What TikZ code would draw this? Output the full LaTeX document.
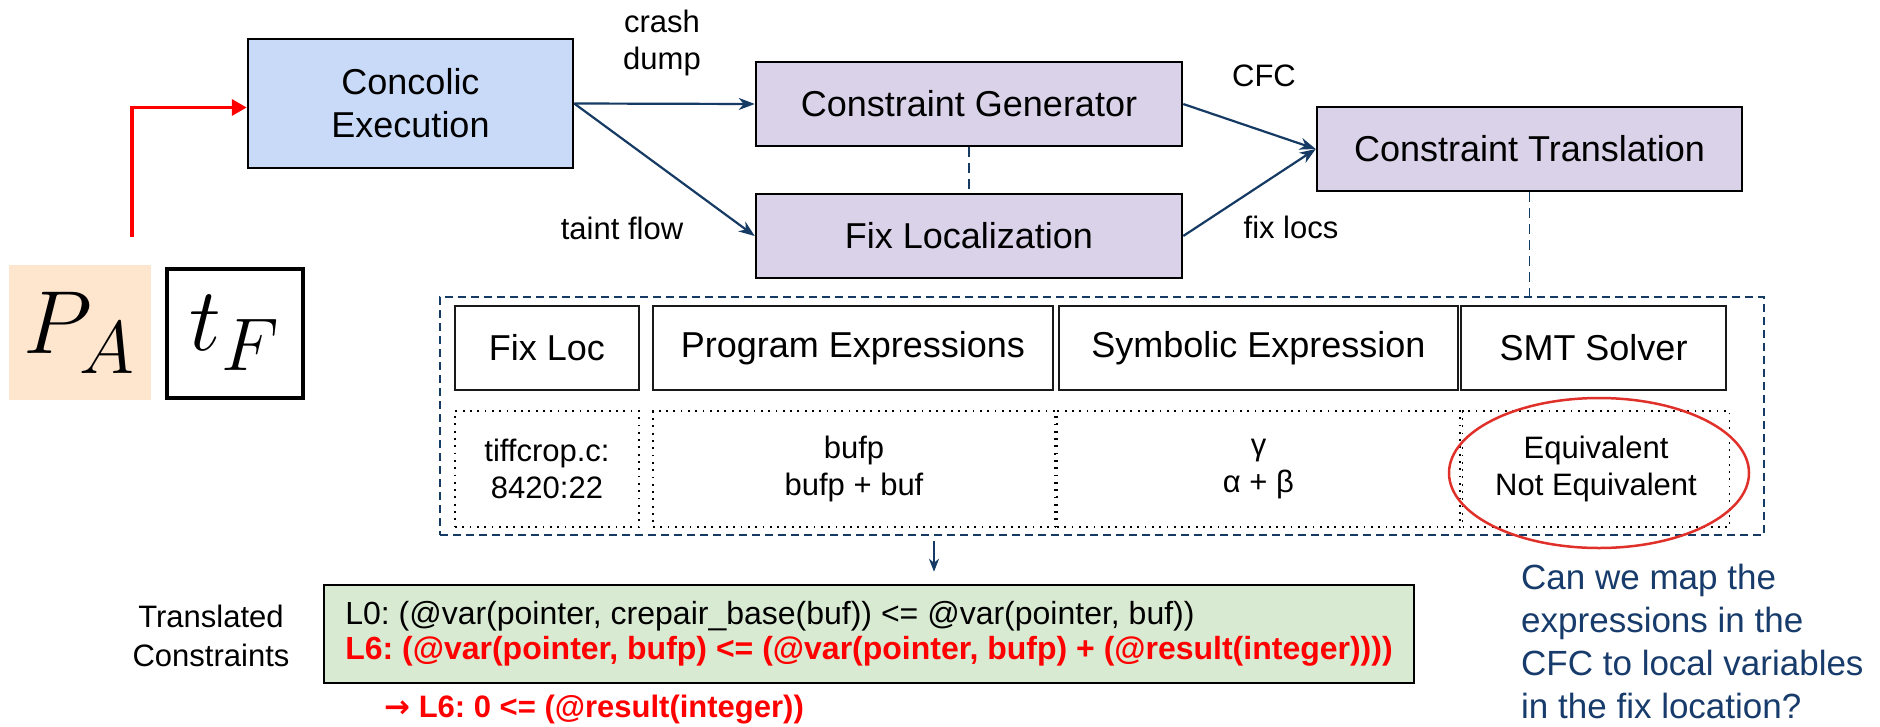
\documentclass[tikz,border=0pt]{standalone}
\usepackage{fontspec}
\setmainfont{Liberation Sans}
\newfontfamily\arrowfont{DejaVu Sans}
\usetikzlibrary{arrows.meta,shapes.geometric}

\definecolor{concfill}{HTML}{C9DAF8}
\definecolor{purpfill}{HTML}{D9D2E9}
\definecolor{greenfill}{HTML}{D9EAD3}
\definecolor{peach}{HTML}{FDE5CE}
\definecolor{navy}{HTML}{153A63}
\definecolor{qblue}{HTML}{173B6B}
\definecolor{ringred}{HTML}{E0302A}

\tikzset{
  procbox/.style={draw=black, line width=2.5pt, align=center, inner sep=0pt,
    font=\fontsize{36}{43}\selectfont},
  headbox/.style={draw=black!90, line width=2.5pt, align=center, inner sep=0pt,
    minimum height=84pt, font=\fontsize{36}{43}\selectfont},
  dotbox/.style={draw=black, line width=1.8pt, dash pattern=on 1.8pt off 5.5pt,
    align=center, inner sep=0pt, minimum height=116pt,
    font=\fontsize{31}{37}\selectfont},
  outerbox/.style={draw=navy, line width=2.2pt, dash pattern=on 8pt off 5pt, inner sep=0pt},
  dashconn/.style={draw=navy, line width=1.8pt, dash pattern=on 10pt off 6pt},
  bluearr/.style={draw=navy, line width=2.2pt,
    -{Stealth[length=16pt,width=12pt,inset=5pt]}},
  redarr/.style={draw=red, line width=3.5pt,
    -{Triangle[length=15pt,width=16pt]}},
  edgelabel/.style={align=center, inner sep=0pt, font=\fontsize{31}{37}\selectfont},
}

\begin{document}
\frenchspacing
\begin{tikzpicture}[x=1pt,y=-1pt]
\useasboundingbox (0,0) rectangle (1880,726);

% inputs: program and failing test
\node[fill=peach, minimum width=142pt, minimum height=135pt, inner sep=0pt] (pa) at (80,332.5)
  {\scalebox{3.6}{\fontsize{24.88}{30}\selectfont$P_A$}};
\node[draw=black, line width=4pt, minimum width=136pt, minimum height=129pt, inner sep=0pt] (tf) at (235,333)
  {\scalebox{3.6}{\fontsize{24.88}{30}\selectfont$t_F$}};

% pipeline stages
\node[procbox, fill=concfill, minimum width=325pt, minimum height=129pt] (conc) at (410.5,103.5) {Concolic\\Execution};
\node[procbox, fill=purpfill, minimum width=426pt, minimum height=84pt] (cg) at (969,104) {Constraint Generator};
\node[procbox, fill=purpfill, minimum width=426pt, minimum height=84pt] (fl) at (969,236) {Fix Localization};
\node[procbox, fill=purpfill, minimum width=425pt, minimum height=84pt] (ct) at (1529.5,149) {Constraint Translation};

% edge labels
\node[edgelabel] (lcrash) at (662,43) {crash\\dump};
\node[edgelabel] (ltaint) at (622,228) {taint flow};
\node[edgelabel] (lcfc) at (1264,76) {CFC};
\node[edgelabel] (lfix) at (1291,227) {fix locs};

% translation table
\node[outerbox, minimum width=1324pt, minimum height=238pt] (outer) at (1102,416) {};
\node[headbox, minimum width=184pt] (hfix) at (547,348) {Fix Loc};
\node[headbox, minimum width=400pt] (hprog) at (853,348) {Program Expressions};
\node[headbox, minimum width=399pt] (hsym) at (1258.5,348) {Symbolic Expression};
\node[headbox, minimum width=265pt] (hsmt) at (1593.5,348) {SMT Solver};
\node[dotbox, minimum width=184pt] (dfix) at (547,469) {tiffcrop.c:\\8420:22};
\node[dotbox, minimum width=402pt] (dprog) at (854,469) {bufp\\bufp + buf};
\node[dotbox, minimum width=403pt] (dsym) at (1258.5,469) {γ\\α + β};
\node[dotbox, minimum width=267pt] (dsmt) at (1596,469) {Equivalent\\Not Equivalent};
\node[draw=ringred, line width=2.5pt, ellipse, minimum width=300pt, minimum height=150pt,
  inner sep=0pt] (ring) at (1599,473) {};

% translated constraints
\node[align=center, inner sep=0pt, font=\fontsize{31}{39}\selectfont] (tlabel) at (211,636) {Translated\\Constraints};
\node[draw=black, line width=2.5pt, fill=greenfill, minimum height=98pt, minimum width=1090pt,
  inner sep=0pt, align=left, font=\fontsize{32}{35}\selectfont] (green) at (869,634)
  {L0: (@var(pointer, crepair\_base(buf)) <= @var(pointer, buf))\\
   \textcolor{red}{\bfseries L6: (@var(pointer, bufp) <= (@var(pointer, bufp) + (@result(integer))))}};
\node[anchor=west, inner sep=0pt, text=red, font=\bfseries\fontsize{31}{37}\selectfont] (res) at (384,710)
  {{\arrowfont\bfseries →} L6: 0 <= (@result(integer))};

% question
\node[anchor=west, align=left, inner sep=0pt, text=qblue, font=\fontsize{35}{43}\selectfont] (quest) at (1521,641)
  {Can we map the\\expressions in the\\CFC to local variables\\in the fix location?};

% connectors
\coordinate (src) at (132,237);
\draw[redarr] (src) |- ([yshift=-4pt]conc.west);
\draw[bluearr] (conc.east) -- (cg.west);
\draw[bluearr] (conc.east) -- (fl.west);
\draw[bluearr] (cg.east) -- (ct.west);
\draw[bluearr] (fl.east) -- (ct.west);
\draw[dashconn] (cg.south) -- (fl.north);
\draw[dashconn] (ct.south) -- (ct.south |- outer.north);
\coordinate (dn) at (934,0);
\draw[draw=navy, line width=1.6pt, -{Stealth[length=13pt,width=10pt,inset=4pt]},
  shorten <=5pt, shorten >=12pt] (outer.south -| dn) -- (green.north -| dn);
\end{tikzpicture}
\end{document}
